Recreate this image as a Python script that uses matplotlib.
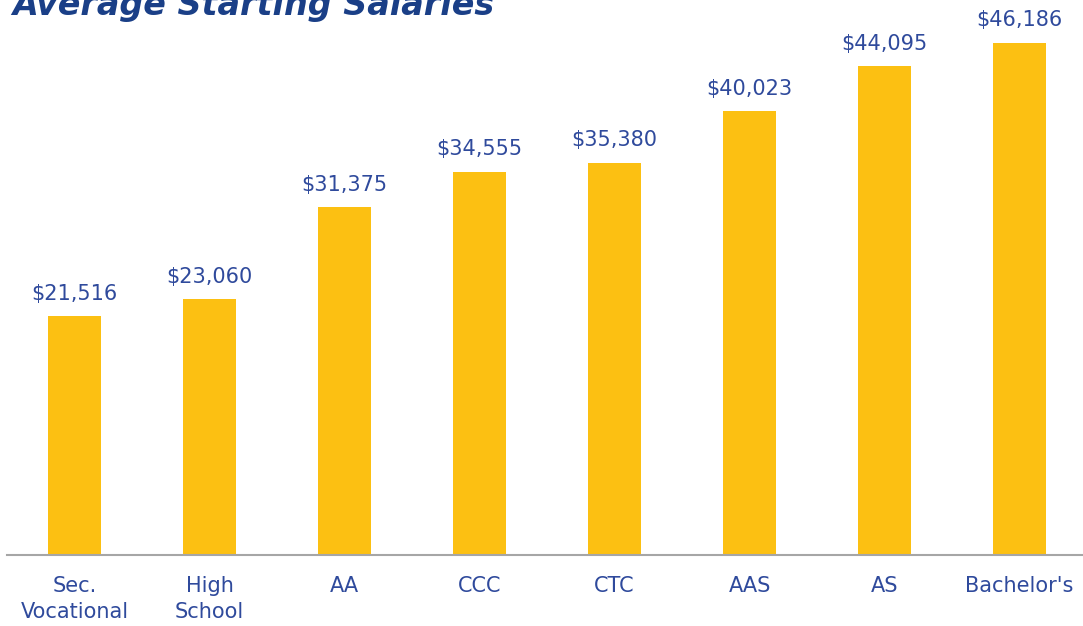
import matplotlib
matplotlib.use("Agg")
import matplotlib.pyplot as plt

categories = ["Sec.\nVocational", "High\nSchool", "AA", "CCC", "CTC", "AAS", "AS", "Bachelor's"]
salaries = [21516, 23060, 31375, 34555, 35380, 40023, 44095, 46186]
title = "Average Starting Salaries"

W, H = 1083, 626
fig = plt.figure(figsize=(W / 100, H / 100), dpi=100)
fig.patch.set_facecolor("white")

left_px, right_px, bottom_px, top_px = 7, 1083, 555, 0
ax = fig.add_axes([left_px / W, 1 - bottom_px / H, (right_px - left_px) / W, (bottom_px - top_px) / H])

bar_color = "#FCC012"
text_color = "#2F4A9C"
x = list(range(len(categories)))
bars = ax.bar(x, salaries, width=0.39, color=bar_color, zorder=2)

ax.set_xlim(-0.5, 7.47)
ax.set_ylim(0, 50060)

for xi, v in zip(x, salaries):
    ax.annotate(f"${v:,}", (xi, v), xytext=(0, 9), textcoords="offset points",
                ha="center", va="bottom", fontsize=15, color=text_color)

ax.set_xticks(x)
ax.set_xticklabels(categories, fontsize=15, color=text_color, linespacing=1.4, va="top")
ax.tick_params(axis="x", length=0, pad=15)
ax.set_yticks([])
for s in ["top", "right", "left"]:
    ax.spines[s].set_visible(False)
ax.spines["bottom"].set_color("#A6A6A6")
ax.spines["bottom"].set_linewidth(1.5)
ax.set_facecolor("none")

fig.text(12 / W, 1 - 15 / H, title, fontsize=24, fontweight="bold", fontstyle="italic",
         color="#1A3F87", ha="left", va="baseline")

fig.savefig("out.png", dpi=100, facecolor="white")
